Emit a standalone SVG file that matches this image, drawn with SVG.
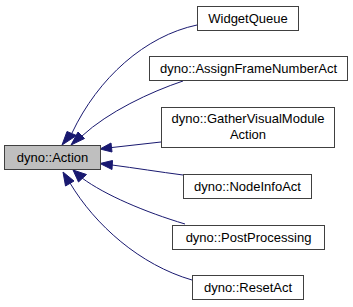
<svg xmlns="http://www.w3.org/2000/svg" width="353" height="307" viewBox="0 0 353 307">
  <style>
    .node rect { fill: #ffffff; stroke: #404040; stroke-width: 1; }
    .root rect { fill: #bfbfbf; }
    text { font-family: "Liberation Sans", Arial, sans-serif; font-size: 13px; fill: #000000; text-anchor: middle; }
    .edge path { fill: none; stroke: #191970; stroke-width: 1; }
    .edge polygon { fill: #191970; stroke: #191970; stroke-width: 1; }
  </style>
  <rect width="353" height="307" fill="#ffffff"/>

  <!-- inheritance edges, each pointing back at the base class -->
  <g id="edges" class="edge">
    <g id="edge-widgetqueue">
      <path d="M197,25 C145,36 98,78 72,133"/>
      <polygon points="67,131.5 62,145 76.5,135.5"/>
    </g>
    <g id="edge-assignframenumberact">
      <path d="M183,81 C150,92 108,112 82,136"/>
      <polygon points="78,132 71,145 84.5,138.5"/>
    </g>
    <g id="edge-gathervisualmoduleaction">
      <path d="M161,142 L112,147.5"/>
      <polygon points="111,143 100,149 112,152"/>
    </g>
    <g id="edge-nodeinfoact">
      <path d="M183,175 C160,172 135,168 112,165"/>
      <polygon points="112.5,160.5 100,163.5 112,169.5"/>
    </g>
    <g id="edge-postprocessing">
      <path d="M185,224 C145,212 105,195 82,178"/>
      <polygon points="78.5,182 73,170 86.5,174.5"/>
    </g>
    <g id="edge-resetact">
      <path d="M192,280 C140,265 95,225 70,183"/>
      <polygon points="65.5,186 63,172 74,181"/>
    </g>
  </g>

  <g id="node-action" class="node root">
    <rect x="4.5" y="145.5" width="96" height="24"/>
    <text x="52.5" y="162">dyno::Action</text>
  </g>
  <g id="node-widgetqueue" class="node">
    <rect x="197.5" y="6.5" width="101" height="24"/>
    <text x="248" y="23">WidgetQueue</text>
  </g>
  <g id="node-assignframenumberact" class="node">
    <rect x="149.5" y="56.5" width="198" height="24"/>
    <text x="248.5" y="73">dyno::AssignFrameNumberAct</text>
  </g>
  <g id="node-gathervisualmoduleaction" class="node">
    <rect x="161.5" y="107.5" width="173" height="40"/>
    <text x="248" y="123">dyno::GatherVisualModule</text>
    <text x="248" y="139">Action</text>
  </g>
  <g id="node-nodeinfoact" class="node">
    <rect x="183.5" y="174.5" width="128" height="24"/>
    <text x="247.5" y="191">dyno::NodeInfoAct</text>
  </g>
  <g id="node-postprocessing" class="node">
    <rect x="172.5" y="225.5" width="152" height="24"/>
    <text x="248.5" y="242">dyno::PostProcessing</text>
  </g>
  <g id="node-resetact" class="node">
    <rect x="192.5" y="275.5" width="111" height="24"/>
    <text x="248" y="292">dyno::ResetAct</text>
  </g>
</svg>
